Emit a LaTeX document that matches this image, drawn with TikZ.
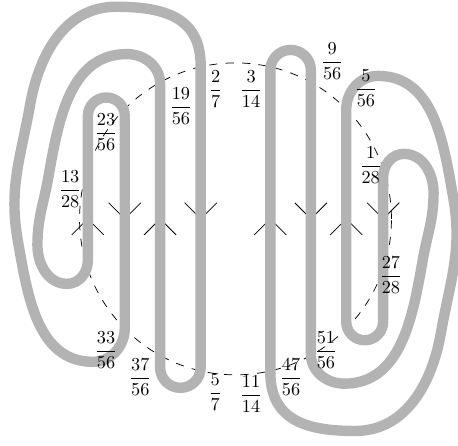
\documentclass[tikz,border=0pt]{standalone}
\usepackage{amsmath}
\definecolor{ropegray}{RGB}{179,179,179}

\begin{document}
\begin{tikzpicture}[rope/.style={line width=2mm,color=ropegray,line join=round},
		tick/.style={thin}]
		\useasboundingbox (-4.53,-4.35) rectangle (4.28,4.21);
%		\draw[lightgray] (-4,-4) grid (4,4);
		\draw[dashed,dash pattern=on 4.5pt off 4.5pt] circle (3cm);
		% the second half is the first one turned by 180 degrees
		\foreach \r in {0,180}{
		\begin{scope}[rotate=\r]
		\foreach \x in {-2.84,-1.45}
		\draw[tick] (\x-0.31,-0.31) -- (\x,0) -- (\x+0.31,-0.31);
		\foreach \x in {-2.13,-0.67}
		\draw[tick] (\x-0.31,0.31) -- (\x,0) -- (\x+0.31,0.31);
		\draw[rope] (-0.67,0) -- (-0.67,-2.86)
			arc[start angle=0,end angle=-180,radius=0.39]
			-- (-1.45,2.6) to[out=90,in=0] (-2.09,3.17)
			to[out=180,in=80] (-3.6,0.8)
			to[out=-100,in=90] (-3.81,-0.5)
			to[out=-90,in=180] (-3.24,-1.25)
			to[out=0,in=-90] (-2.84,-0.8)
			-- (-2.84,1.98) arc[start angle=180,end angle=0,radius=0.355]
			-- (-2.13,-2.1) to[out=-90,in=0] (-2.74,-2.75)
			to[out=180,in=-80] (-4.19,-0.4)
			to[out=100,in=-100] (-3.95,2.2)
			to[out=80,in=180] (-2.3,4.08)
			to[out=0,in=90,looseness=1.2] (-0.67,2.95) -- cycle;
		\end{scope}
		}
		% labels of the crossings
		\node (f19o56) at (-1.05,2.17) {$\dfrac{19}{56}$};
		\node (f2o7) at (-0.38,2.49) {$\dfrac{2}{7}$};
		\node (f3o14) at (0.30,2.49) {$\dfrac{3}{14}$};
		\node (f9o56) at (1.86,3.03) {$\dfrac{9}{56}$};
		\node (f5o56) at (2.51,2.51) {$\dfrac{5}{56}$};
		\node (f1o28) at (2.60,1.03) {$\dfrac{1}{28}$};
		\node (f27o28) at (2.99,-1.09) {$\dfrac{27}{28}$};
		\node (f51o56) at (1.74,-2.53) {$\dfrac{51}{56}$};
		\node (f47o56) at (1.07,-3.05) {$\dfrac{47}{56}$};
		\node (f11o14) at (0.30,-3.37) {$\dfrac{11}{14}$};
		\node (f5o7) at (-0.39,-3.34) {$\dfrac{5}{7}$};
		\node (f37o56) at (-1.83,-3.05) {$\dfrac{37}{56}$};
		\node (f33o56) at (-2.49,-2.53) {$\dfrac{33}{56}$};
		\node (f13o28) at (-3.18,0.58) {$\dfrac{13}{28}$};
		\node (f23o56) at (-2.49,1.67) {$\dfrac{23}{56}$};
	\end{tikzpicture}
\end{document}
